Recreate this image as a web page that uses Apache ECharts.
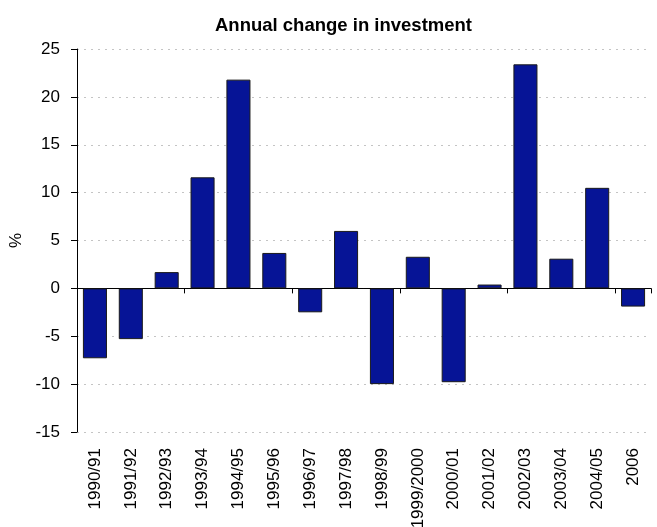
<!DOCTYPE html>
<html>
<head>
<meta charset="utf-8">
<script src="https://cdn.jsdelivr.net/npm/echarts@6/dist/echarts.min.js"></script>
<style>
  html, body { margin: 0; padding: 0; background: #fff; }
  #chart { width: 657px; height: 527px; }
</style>
</head>
<body>
<div id="chart"></div>
<script>
// Financial years shown on the category axis
const years = [
  '1990/91', '1991/92', '1992/93', '1993/94', '1994/95', '1995/96', '1996/97',
  '1997/98', '1998/99', '1999/2000', '2000/01', '2001/02', '2002/03', '2003/04',
  '2004/05', '2006'
];

// Annual change in investment, per cent
const changePct = [
  -7.3, -5.3, 1.7, 11.6, 21.8, 3.7, -2.5,
  6.0, -10.0, 3.3, -9.8, 0.4, 23.4, 3.1,
  10.5, -1.9
];

// Value axis range and step
const yMin = -15;
const yMax = 25;
const yStep = 5;

const FONT = "'Liberation Sans', Arial, sans-serif";

const chart = echarts.init(document.getElementById('chart'), null, { renderer: 'canvas' });

chart.setOption({
  animation: false,
  backgroundColor: '#ffffff',
  title: {
    text: 'Annual change in investment',
    left: 210,
    top: 11,
    textStyle: { fontFamily: FONT, fontSize: 18.5, fontWeight: 'bold', color: '#000' }
  },
  grid: {
    left: 77, right: 6, top: 49, bottom: 95,
    containLabel: false,
    outerBoundsMode: 'none'
  },
  xAxis: [
    {
      // axis line through zero with ticks between the bars
      type: 'category',
      data: years,
      position: 'bottom',
      axisLine: { onZero: true, lineStyle: { color: '#000', width: 1 } },
      axisTick: { show: true, length: 5, lineStyle: { color: '#000' } },
      axisLabel: { show: false },
      splitLine: { show: false }
    },
    {
      // year labels along the bottom of the plot
      type: 'category',
      data: years,
      position: 'bottom',
      axisLine: { show: false, onZero: false },
      axisTick: { show: false },
      axisLabel: {
        rotate: 90,
        margin: 16,
        interval: 0,
        fontFamily: FONT,
        fontSize: 17,
        color: '#000'
      },
      splitLine: { show: false }
    }
  ],
  yAxis: {
    type: 'value',
    min: yMin,
    max: yMax,
    interval: yStep,
    name: '%',
    nameLocation: 'middle',
    nameGap: 51,
    nameRotate: 90,
    nameTextStyle: { fontFamily: FONT, fontSize: 17, color: '#000' },
    axisLine: { show: true, lineStyle: { color: '#000', width: 1 } },
    axisTick: { show: true, length: 6, lineStyle: { color: '#000' } },
    axisLabel: { margin: 17, fontFamily: FONT, fontSize: 17, color: '#000' },
    splitLine: { show: true, lineStyle: { color: '#c4c4c4', type: [2, 5], width: 1 } }
  },
  series: [
    {
      type: 'bar',
      xAxisIndex: 0,
      data: changePct,
      barCategoryGap: '33%',
      itemStyle: { color: '#061496', borderColor: '#1a1a1a', borderWidth: 1 }
    }
  ]
});
</script>
</body>
</html>
